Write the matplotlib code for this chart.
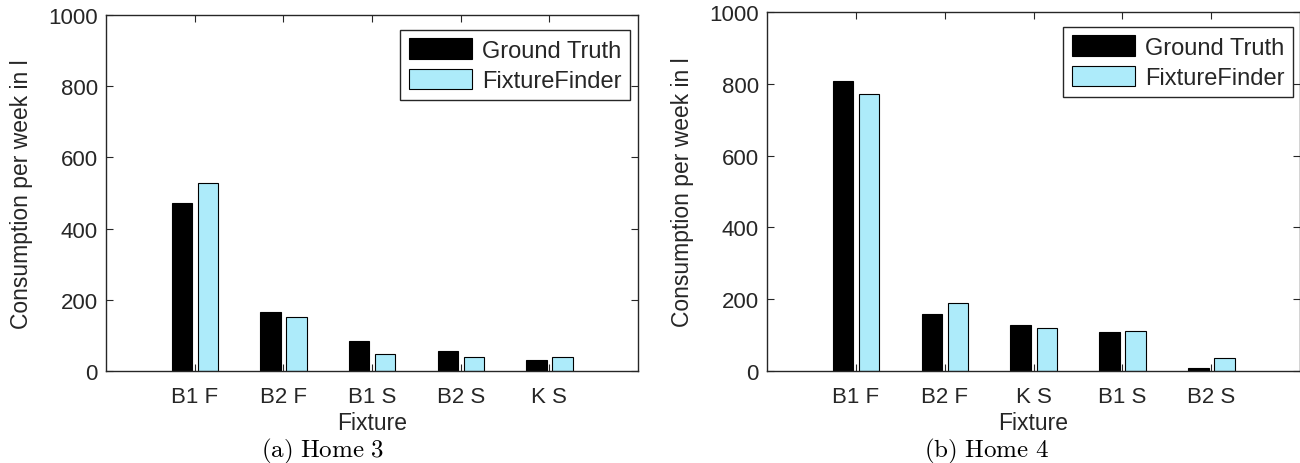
import numpy as np
import matplotlib
matplotlib.use('Agg')
import matplotlib.pyplot as plt
from matplotlib.patches import Patch

plt.rcParams['font.family'] = ['Liberation Sans', 'DejaVu Sans']
plt.rcParams['mathtext.fontset'] = 'cm'

# Home 3
fixtures_h3 = ['B1 F', 'B2 F', 'B1 S', 'B2 S', 'K S']
truth_h3 = [471, 166, 83, 57, 31]
finder_h3 = [528, 152, 47, 39, 39]

# Home 4
fixtures_h4 = ['B1 F', 'B2 F', 'K S', 'B1 S', 'B2 S']
truth_h4 = [807, 160, 129, 108, 8]
finder_h4 = [772, 189, 119, 111, 37]

series_names = ['Ground Truth', 'FixtureFinder']
TEXT = '#262626'
CYAN = '#ADEBFA'

fig = plt.figure(figsize=(13, 4.64), dpi=100)
W, H = 1300, 464


def panel(rect, fixtures, truth, finder, caption, leg_anchor, cap_x):
    ax = fig.add_axes(rect)
    x = np.arange(1, len(fixtures) + 1)
    ax.bar(x - 0.145, truth, width=0.23, color='black', edgecolor='black', linewidth=0.8)
    ax.bar(x + 0.15, finder, width=0.23, color=CYAN, edgecolor='black', linewidth=0.8)

    ax.set_xlim(0, 6)
    ax.set_ylim(0, 1000)
    ax.set_xticks(x)
    ax.set_xticklabels(fixtures)
    ax.set_yticks([0, 200, 400, 600, 800, 1000])
    ax.tick_params(direction='in', top=True, right=True, length=5, width=0.8,
                   labelsize=16, colors=TEXT)
    ax.tick_params(axis='x', pad=11)
    ax.tick_params(axis='y', pad=6)
    for s in ax.spines.values():
        s.set_color(TEXT)
        s.set_linewidth(1.0)
    ax.set_xlabel('Fixture', fontsize=16.5, color=TEXT, labelpad=3)
    ax.set_ylabel('Consumption per week in l', fontsize=16.5, color=TEXT, labelpad=11)

    handles = [Patch(facecolor='black', edgecolor='black', linewidth=0.8),
               Patch(facecolor=CYAN, edgecolor='black', linewidth=0.8)]
    leg = ax.legend(handles, series_names, loc='upper right', bbox_to_anchor=leg_anchor,
                    borderaxespad=0, fontsize=17, fancybox=False, framealpha=1,
                    edgecolor=TEXT, handlelength=2.7, handleheight=0.95,
                    handletextpad=0.42, labelspacing=0.3, borderpad=0.35)
    leg.get_frame().set_linewidth(1.0)
    for t in leg.get_texts():
        t.set_color(TEXT)

    fig.text(cap_x / W, 1 - 451 / H, caption, ha='center', va='center', fontsize=18)
    return ax


panel([106 / W, (H - 372) / H, 532 / W, 356 / H],
      fixtures_h3, truth_h3, finder_h3, r'$\mathrm{(a)\ Home\ 3}$',
      ((630 - 106) / 532, (372 - 31) / 356), 323)
panel([767 / W, (H - 372) / H, 533 / W, 359 / H],
      fixtures_h4, truth_h4, finder_h4, r'$\mathrm{(b)\ Home\ 4}$',
      ((1293 - 767) / 533, (372 - 28) / 359), 986)

fig.savefig('out.png', dpi=100)
